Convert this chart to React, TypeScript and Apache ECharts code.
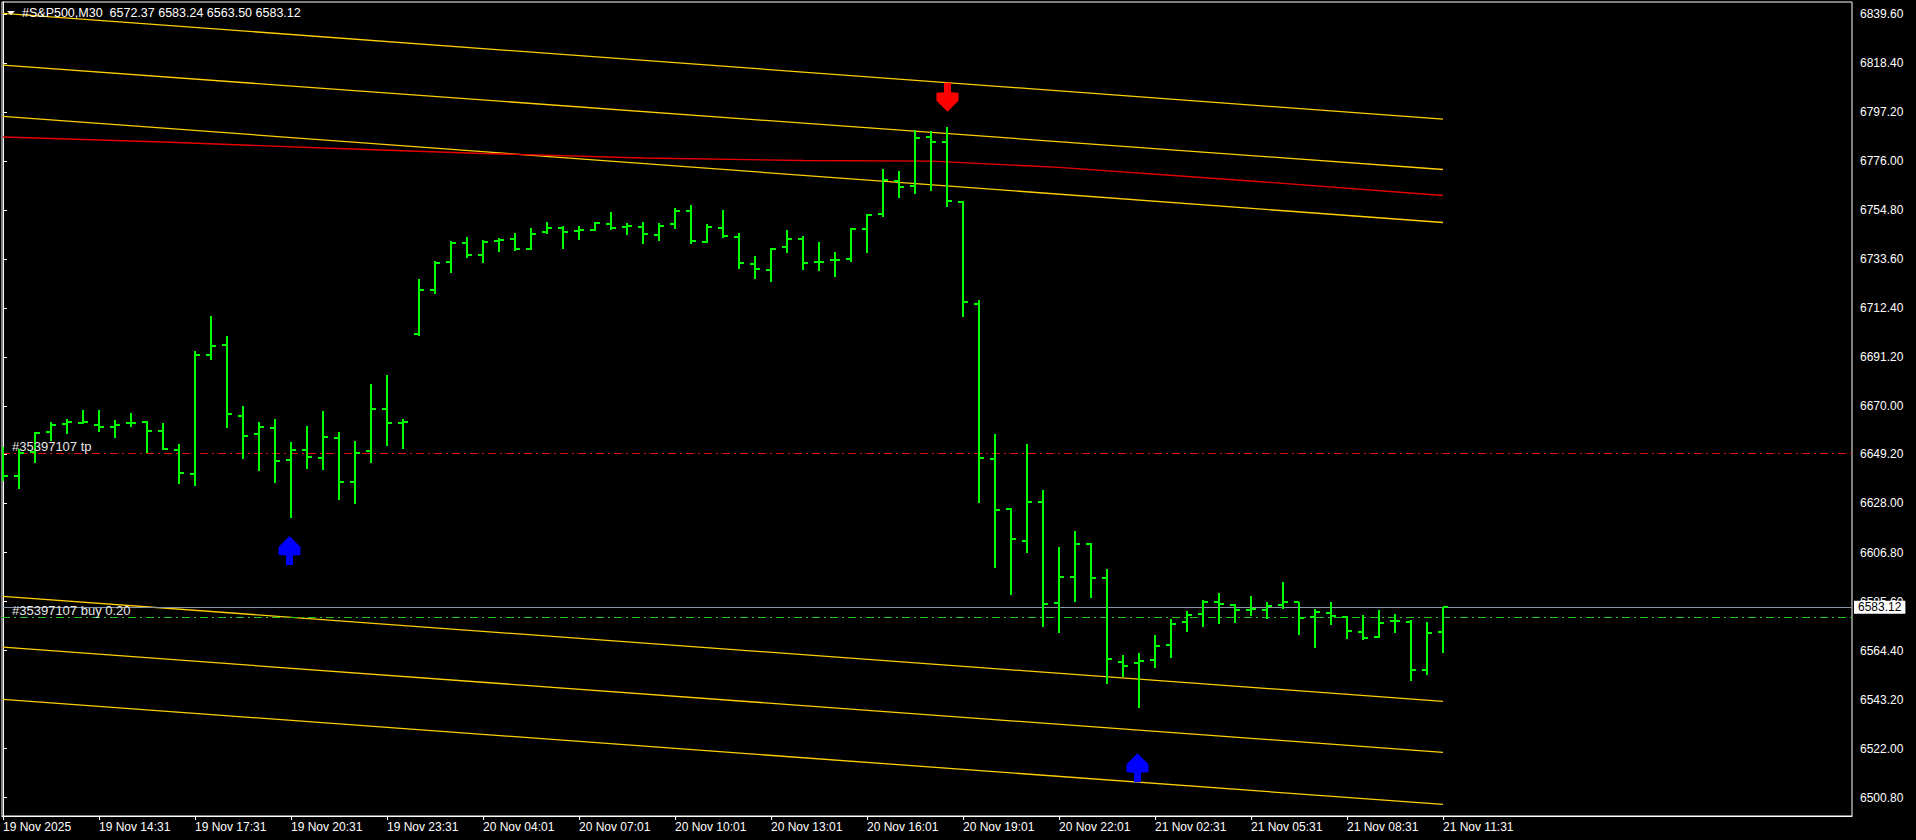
import React, { useEffect, useRef } from "react";
import * as echarts from "echarts";

// ---------- DATA ----------
const symbolName = "#S&P500,M30";
const firstLabel = "19 Nov 2025";

const times = [
  "19 Nov 11:31", "19 Nov 12:01", "19 Nov 12:31", "19 Nov 13:01", "19 Nov 13:31", "19 Nov 14:01",
  "19 Nov 14:31", "19 Nov 15:01", "19 Nov 15:31", "19 Nov 16:01", "19 Nov 16:31", "19 Nov 17:01",
  "19 Nov 17:31", "19 Nov 18:01", "19 Nov 18:31", "19 Nov 19:01", "19 Nov 19:31", "19 Nov 20:01",
  "19 Nov 20:31", "19 Nov 21:01", "19 Nov 21:31", "19 Nov 22:01", "19 Nov 22:31", "19 Nov 23:01",
  "19 Nov 23:31", "20 Nov 00:01", "20 Nov 02:01", "20 Nov 02:31", "20 Nov 03:01", "20 Nov 03:31",
  "20 Nov 04:01", "20 Nov 04:31", "20 Nov 05:01", "20 Nov 05:31", "20 Nov 06:01", "20 Nov 06:31",
  "20 Nov 07:01", "20 Nov 07:31", "20 Nov 08:01", "20 Nov 08:31", "20 Nov 09:01", "20 Nov 09:31",
  "20 Nov 10:01", "20 Nov 10:31", "20 Nov 11:01", "20 Nov 11:31", "20 Nov 12:01", "20 Nov 12:31",
  "20 Nov 13:01", "20 Nov 13:31", "20 Nov 14:01", "20 Nov 14:31", "20 Nov 15:01", "20 Nov 15:31",
  "20 Nov 16:01", "20 Nov 16:31", "20 Nov 17:01", "20 Nov 17:31", "20 Nov 18:01", "20 Nov 18:31",
  "20 Nov 19:01", "20 Nov 19:31", "20 Nov 20:01", "20 Nov 20:31", "20 Nov 21:01", "20 Nov 21:31",
  "20 Nov 22:01", "20 Nov 22:31", "20 Nov 23:01", "20 Nov 23:31", "21 Nov 00:01", "21 Nov 02:01",
  "21 Nov 02:31", "21 Nov 03:01", "21 Nov 03:31", "21 Nov 04:01", "21 Nov 04:31", "21 Nov 05:01",
  "21 Nov 05:31", "21 Nov 06:01", "21 Nov 06:31", "21 Nov 07:01", "21 Nov 07:31", "21 Nov 08:01",
  "21 Nov 08:31", "21 Nov 09:01", "21 Nov 09:31", "21 Nov 10:01", "21 Nov 10:31", "21 Nov 11:01",
  "21 Nov 11:31",
];

const opens = [
  6640.5, 6639.9, 6650.1, 6658.8, 6662.2, 6663.0, 6662.1, 6661.2, 6662.7, 6663.1,
  6659.5, 6651.1, 6640.9, 6692.2, 6696.5, 6666.0, 6657.9, 6660.8, 6646.8, 6651.2,
  6647.8, 6656.4, 6637.4, 6650.7, 6669.0, 6662.9, 6701.4, 6720.2, 6732.5, 6740.7,
  6735.6, 6741.5, 6742.5, 6738.1, 6745.5, 6747.2, 6745.9, 6746.4, 6749.0, 6747.6,
  6747.6, 6744.2, 6749.0, 6754.6, 6741.2, 6747.2, 6743.3, 6731.7, 6729.1, 6738.9,
  6742.5, 6732.5, 6733.3, 6733.8, 6746.8, 6753.3, 6767.5, 6765.4, 6786.6, 6784.4,
  6758.5, 6714.4, 6647.4, 6625.6, 6611.9, 6628.7, 6585.1, 6596.3, 6610.6, 6595.9,
  6559.5, 6559.0, 6560.5, 6566.8, 6576.9, 6580.4, 6585.5, 6584.2, 6582.1, 6582.1,
  6584.2, 6585.3, 6579.1, 6580.8, 6579.1, 6572.6, 6570.4, 6577.2, 6576.9, 6556.1,
  6572.37,
];
const highs = [
  6652.5, 6651.4, 6658.8, 6663.1, 6664.5, 6668.4, 6668.4, 6664.1, 6667.1, 6663.5,
  6662.8, 6653.7, 6693.9, 6709.0, 6700.4, 6670.1, 6663.1, 6664.4, 6654.5, 6661.5,
  6668.0, 6658.8, 6655.0, 6679.7, 6683.5, 6664.4, 6725.0, 6732.8, 6741.5, 6743.2,
  6741.9, 6742.8, 6744.9, 6747.1, 6749.7, 6748.0, 6748.0, 6749.7, 6754.0, 6749.3,
  6749.7, 6749.3, 6755.7, 6757.0, 6748.8, 6754.9, 6744.9, 6735.0, 6738.4, 6746.2,
  6743.6, 6741.0, 6736.7, 6747.1, 6753.1, 6772.6, 6771.7, 6789.5, 6789.0, 6790.8,
  6758.6, 6716.0, 6658.0, 6625.9, 6653.7, 6633.8, 6609.2, 6616.1, 6610.8, 6599.7,
  6562.5, 6563.4, 6571.1, 6578.1, 6581.5, 6586.3, 6589.3, 6584.5, 6588.0, 6585.4,
  6594.1, 6585.4, 6582.4, 6585.4, 6579.5, 6579.8, 6582.0, 6580.2, 6577.6, 6576.8,
  6583.24,
];
const lows = [
  6637.8, 6634.3, 6645.6, 6655.0, 6658.0, 6662.2, 6659.0, 6656.4, 6661.2, 6650.0,
  6651.1, 6636.6, 6635.7, 6690.2, 6660.8, 6647.2, 6642.2, 6637.0, 6621.9, 6643.0,
  6642.6, 6629.6, 6627.9, 6645.4, 6653.0, 6651.7, 6700.4, 6718.7, 6727.8, 6734.3,
  6732.1, 6736.7, 6737.3, 6737.7, 6744.6, 6738.1, 6741.9, 6745.9, 6746.2, 6744.1,
  6740.2, 6741.5, 6746.7, 6740.2, 6740.7, 6742.8, 6729.4, 6725.0, 6723.7, 6736.3,
  6728.9, 6728.5, 6725.9, 6732.4, 6736.3, 6752.0, 6760.2, 6761.9, 6763.2, 6756.3,
  6708.7, 6628.1, 6600.2, 6588.4, 6606.5, 6574.7, 6572.1, 6585.5, 6587.3, 6550.1,
  6552.9, 6539.7, 6557.0, 6561.3, 6572.6, 6574.6, 6576.0, 6576.5, 6579.5, 6578.2,
  6582.5, 6571.3, 6565.7, 6575.6, 6569.5, 6569.1, 6570.0, 6572.1, 6551.4, 6554.0,
  6563.5,
];
const closes = [
  6639.9, 6649.7, 6658.3, 6661.9, 6663.4, 6663.3, 6661.2, 6661.9, 6662.9, 6659.5,
  6651.5, 6641.3, 6692.2, 6696.1, 6666.7, 6657.3, 6661.2, 6646.2, 6651.2, 6648.2,
  6656.9, 6637.4, 6650.0, 6669.0, 6662.9, 6663.1, 6720.2, 6732.1, 6740.5, 6735.4,
  6741.2, 6741.9, 6738.0, 6744.6, 6747.1, 6745.5, 6746.4, 6749.4, 6747.1, 6747.8,
  6744.6, 6748.1, 6754.6, 6741.6, 6747.7, 6743.6, 6732.1, 6729.5, 6738.1, 6742.5,
  6732.1, 6732.6, 6733.4, 6746.8, 6752.5, 6768.0, 6764.9, 6786.1, 6784.4, 6758.9,
  6715.1, 6647.8, 6625.2, 6612.6, 6628.7, 6584.5, 6596.3, 6610.6, 6595.9, 6560.9,
  6557.7, 6560.0, 6566.4, 6575.9, 6579.9, 6585.5, 6584.7, 6582.1, 6582.5, 6583.8,
  6585.5, 6578.5, 6581.2, 6579.4, 6573.0, 6569.9, 6576.5, 6577.3, 6556.1, 6572.0,
  6583.12,
];

// price scale tick labels
const yTicks = [
  6500.8, 6522.0, 6543.2, 6564.4, 6585.6, 6606.8, 6628.0, 6649.2, 6670.0,
  6691.2, 6712.4, 6733.6, 6754.8, 6776.0, 6797.2, 6818.4, 6839.6,
];
const xTickIdx = [0, 6, 12, 18, 24, 30, 36, 42, 48, 54, 60, 66, 72, 78, 84, 90];

// channel lines: [bar index, price]
const chanUpper1 = [[0, 6839.9], [90, 6794.17]];
const chanUpper2 = [[0, 6817.47], [90, 6772.38]];
const chanUpper3 = [[0, 6795.38], [90, 6749.46]];
const chanLower1 = [[0, 6587.87], [90, 6542.48]];
const chanLower2 = [[0, 6565.86], [90, 6520.43]];
const chanLower3 = [[0, 6543.34], [90, 6497.9]];
const redCurve = [
  [0, 6786.43], [10, 6784.27], [20, 6781.67], [30, 6779.29], [40, 6777.35],
  [50, 6776.27], [58, 6775.96], [66, 6773.33], [78, 6767.4], [90, 6761.14],
];

// signals
const buyArrows = [[18, 6613.94], [71, 6520.0]];
const sellArrows = [[59, 6797.36]];

// order levels
const orderId = "#35397107";
const tpLevel = 6649.69;
const buyLevel = 6578.79;
const buyLots = "0.20";
const bidPrice = 6583.12;

// ---------- CHART ----------
const FONT = "'Liberation Sans', Arial, sans-serif";
const UP_ARROW = "path://M11,0 L22,11 L22,19 L14.5,19.5 L14.5,29 L7.5,29 L7.5,19.5 L0,19 L0,11 Z";
const DOWN_ARROW = "path://M7.5,0 L14.5,0 L14.5,9.5 L22,10 L22,18 L11,29 L0,18 L0,10 L7.5,9.5 Z";
const GOLD = "#ffcf00";

export default function App() {
  const ref = useRef<HTMLDivElement>(null);

  useEffect(() => {
    document.body.style.margin = "0";
    document.body.style.background = "#000";
    const chart = echarts.init(ref.current!, null, { renderer: "svg" });
    const ohlc = times.map((_, i) => [i, opens[i], highs[i], lows[i], closes[i]]);
    const n = times.length - 1;

    const chanSeries = (data: number[][], color: string) => ({
      type: "line",
      data,
      symbol: "none",
      silent: true,
      lineStyle: { color, width: 1.3 },
      z: 3,
    });

    chart.setOption({
      animation: false,
      backgroundColor: "#000",
      grid: {
        left: 2,
        top: 2,
        right: 64,
        bottom: 24,
        show: true,
        borderColor: "#ffffff",
        borderWidth: 1,
        backgroundColor: "#000",
      },
      xAxis: {
        type: "value",
        min: -0.0625,
        max: 115.5625,
        axisLine: { show: true, lineStyle: { color: "#ffffff", width: 1 } },
        axisTick: {
          show: true,
          length: 4,
          customValues: xTickIdx,
          lineStyle: { color: "#ffffff" },
        },
        axisLabel: {
          customValues: xTickIdx,
          color: "#ffffff",
          fontFamily: FONT,
          fontSize: 12,
          align: "left",
          margin: 5,
          formatter: (v: number) => (v === 0 ? firstLabel : times[Math.round(v)] || ""),
        },
        splitLine: { show: false },
      },
      yAxis: {
        type: "value",
        position: "right",
        min: 6492.9,
        max: 6844.787,
        axisLine: { show: true, lineStyle: { color: "#ffffff", width: 1 } },
        axisTick: {
          show: true,
          length: 4,
          customValues: yTicks,
          lineStyle: { color: "#ffffff" },
        },
        axisLabel: {
          customValues: yTicks,
          color: "#ffffff",
          fontFamily: FONT,
          fontSize: 12,
          margin: 8,
          formatter: (v: number) => v.toFixed(2),
        },
        splitLine: { show: false },
      },
      series: [
        chanSeries(chanUpper1, GOLD),
        chanSeries(chanUpper2, GOLD),
        chanSeries(chanUpper3, GOLD),
        chanSeries(chanLower1, GOLD),
        chanSeries(chanLower2, GOLD),
        chanSeries(chanLower3, GOLD),
        chanSeries(redCurve, "#e80000"),
        {
          type: "custom",
          data: ohlc,
          encode: { x: 0, y: [1, 2, 3, 4] },
          clip: true,
          z: 5,
          renderItem: (params: any, api: any) => {
            const i = api.value(0);
            const x = Math.round(api.coord([i, api.value(1)])[0]);
            const yO = Math.round(api.coord([i, api.value(1)])[1]);
            const yH = Math.round(api.coord([i, api.value(2)])[1]);
            const yL = Math.round(api.coord([i, api.value(3)])[1]);
            const yC = Math.round(api.coord([i, api.value(4)])[1]);
            const style = { stroke: "#00ff00", lineWidth: 2 };
            return {
              type: "group",
              children: [
                { type: "line", shape: { x1: x, y1: yH, x2: x, y2: yL }, style },
                { type: "line", shape: { x1: x - 5, y1: yO, x2: x, y2: yO }, style },
                { type: "line", shape: { x1: x, y1: yC, x2: x + 5, y2: yC }, style },
              ],
            };
          },
          markLine: {
            silent: true,
            symbol: ["none", "none"],
            data: [
              {
                yAxis: tpLevel,
                lineStyle: { color: "#e01010", width: 1, type: [8, 4, 2, 4] },
                label: { show: false },
              },
              {
                yAxis: buyLevel,
                lineStyle: { color: "#22c422", width: 1, type: [8, 4, 2, 4] },
                label: { show: false },
              },
              {
                yAxis: bidPrice,
                lineStyle: { color: "#8896a8", width: 1, type: "solid" },
                label: {
                  show: true,
                  position: "end",
                  formatter: bidPrice.toFixed(2),
                  backgroundColor: "#ffffff",
                  color: "#000000",
                  fontFamily: FONT,
                  fontSize: 12,
                  lineHeight: 12,
                  padding: [1, 4, 0, 4],
                  distance: 2,
                },
              },
            ],
          },
        },
        {
          type: "scatter",
          data: buyArrows,
          symbol: UP_ARROW,
          symbolSize: [22, 29],
          symbolOffset: [-1.5, 14.5],
          silent: true,
          itemStyle: { color: "#0000ff", opacity: 1 },
          z: 6,
        },
        {
          type: "scatter",
          data: sellArrows,
          symbol: DOWN_ARROW,
          symbolSize: [22, 29],
          symbolOffset: [0.5, -14.5],
          silent: true,
          itemStyle: { color: "#ff0000", opacity: 1 },
          z: 6,
        },
      ],
    });

    const yTp = chart.convertToPixel({ yAxisIndex: 0 }, tpLevel) as number;
    const yBuy = chart.convertToPixel({ yAxisIndex: 0 }, buyLevel) as number;
    const header = `${symbolName}  ${opens[n].toFixed(2)} ${highs[n].toFixed(2)} ${lows[n].toFixed(2)} ${closes[n].toFixed(2)}`;

    chart.setOption({
      graphic: [
        {
          type: "polygon",
          shape: { points: [[7, 11], [15, 11], [11, 15]] },
          style: { fill: "#ffffff" },
          z: 10,
        },
        {
          type: "text",
          x: 22,
          y: 13,
          style: {
            text: header,
            fill: "#ffffff",
            font: `12.5px ${FONT}`,
            verticalAlign: "middle",
            align: "left",
          },
          z: 10,
        },
        {
          type: "text",
          x: 12,
          y: yTp - 7,
          style: {
            text: `${orderId} tp`,
            fill: "#e8e8e8",
            font: `13px ${FONT}`,
            verticalAlign: "middle",
            align: "left",
          },
          z: 10,
        },
        {
          type: "text",
          x: 12,
          y: yBuy - 7,
          style: {
            text: `${orderId} buy ${buyLots}`,
            fill: "#e8e8e8",
            font: `13px ${FONT}`,
            verticalAlign: "middle",
            align: "left",
          },
          z: 10,
        },
      ],
    });

    return () => chart.dispose();
  }, []);

  return (
    <div
      ref={ref}
      style={{ position: "fixed", left: 0, top: 0, width: 1916, height: 840, background: "#000" }}
    />
  );
}
